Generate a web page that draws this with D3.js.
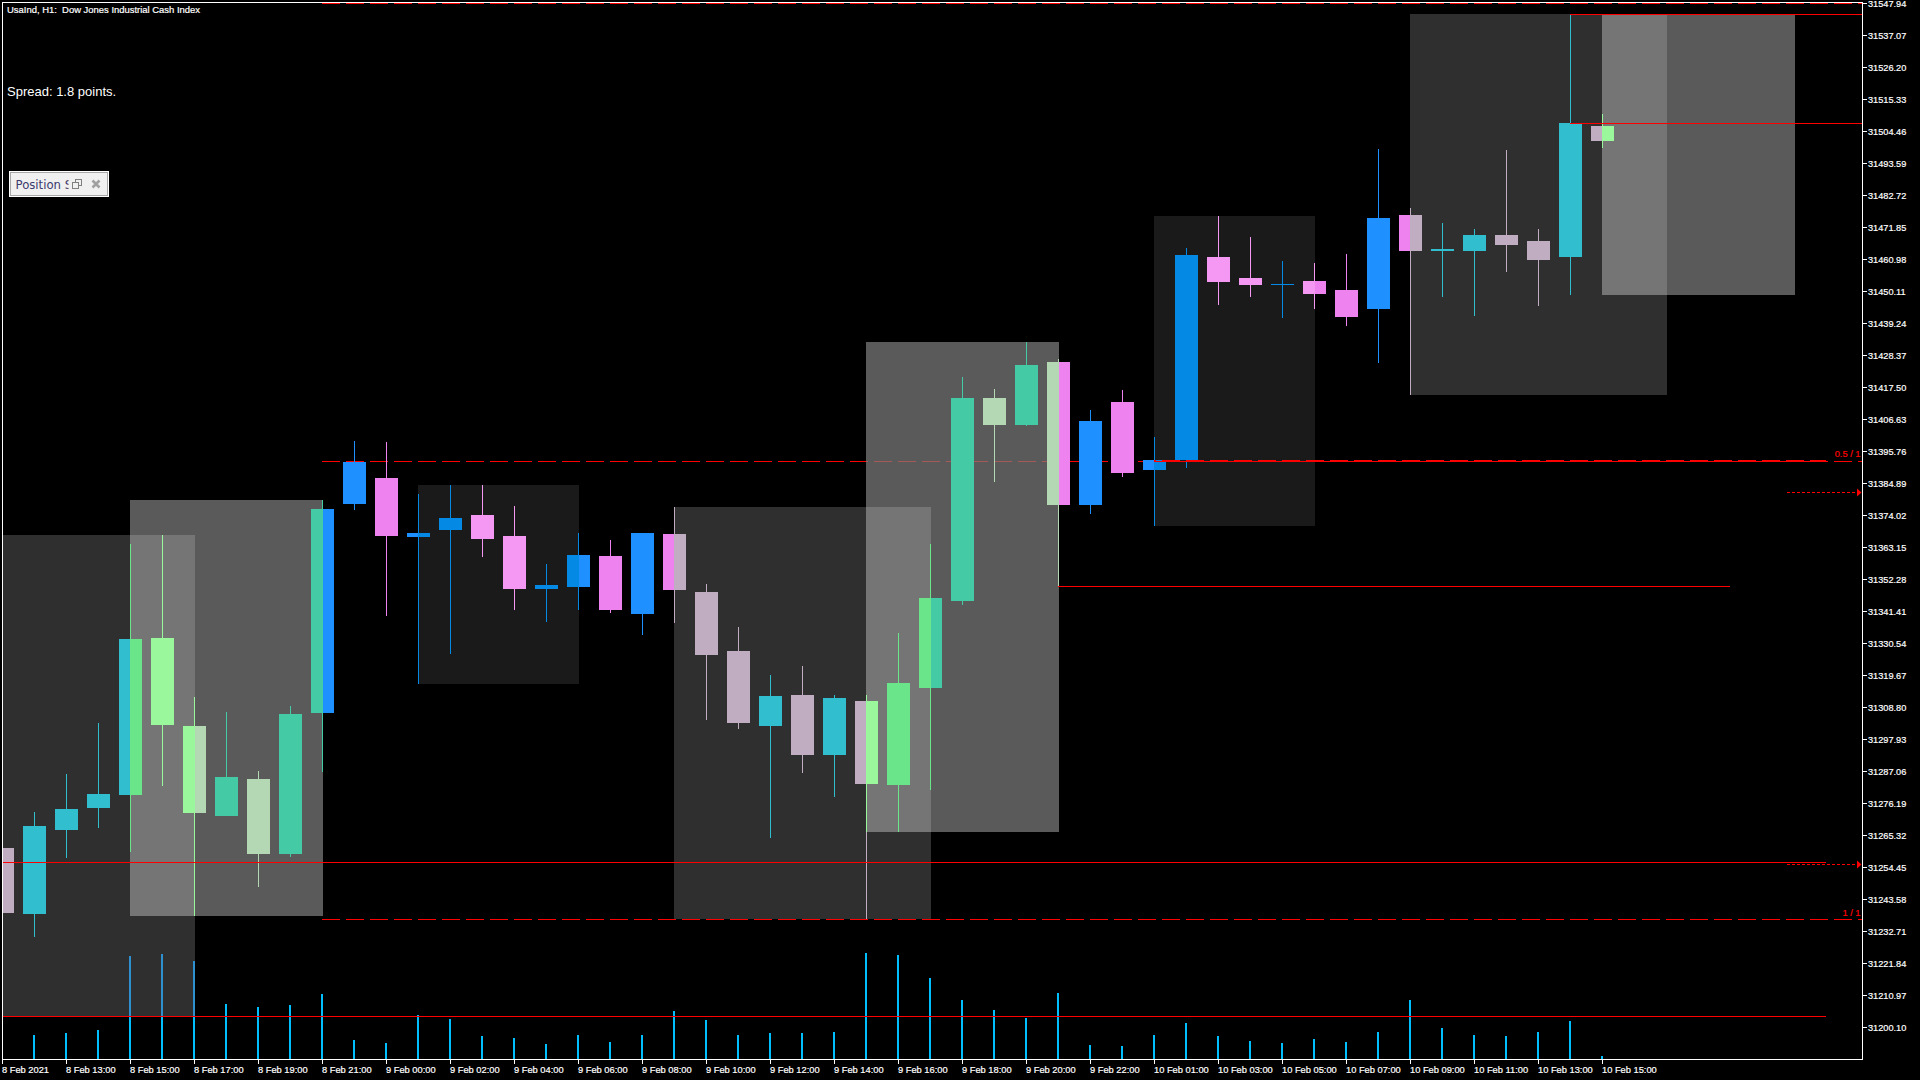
<!DOCTYPE html>
<html><head><meta charset="utf-8">
<style>html,body{margin:0;padding:0;background:#000;overflow:hidden}svg{display:block}
text{font-family:"Liberation Sans",Arial,sans-serif}</style>
<script src="https://cdn.jsdelivr.net/npm/d3@7/dist/d3.min.js"></script>
</head><body><script>
// ---------- data ----------
const opens  = [31260.90,31238.48,31267.02,31274.49,31278.91,31332.24,31302.35,31271.77,31284.34,31258.87,31306.76,31377.75,31386.58,31366.54,31368.92,31374.01,31366.88,31348.88,31349.56,31360.09,31340.39,31367.56,31347.87,31327.83,31302.35,31312.88,31292.50,31310.84,31282.31,31315.26,31344.81,31413.76,31404.59,31425.99,31377.41,31412.40,31389.30,31392.70,31461.66,31454.52,31452.15,31453.50,31450.45,31443.99,31475.92,31463.70,31463.70,31469.13,31467.09,31461.66,31506.16];
const highs  = [31263.62,31273.13,31286.04,31303.37,31364.16,31367.22,31312.20,31307.10,31287.06,31309.14,31379.11,31399.15,31398.81,31381.15,31384.21,31384.21,31377.07,31357.37,31367.90,31365.52,31367.90,31376.73,31350.59,31335.98,31319.67,31322.73,31312.88,31312.88,31333.94,31364.16,31420.89,31416.82,31432.79,31427.01,31409.68,31416.48,31400.51,31464.71,31475.58,31468.45,31460.30,31459.62,31462.68,31498.34,31478.30,31473.21,31471.17,31498.01,31471.17,31544.20,31510.23];
const lows   = [31236.45,31230.67,31257.51,31267.70,31259.55,31281.97,31237.80,31271.77,31247.66,31257.85,31286.72,31375.71,31339.71,31316.62,31326.81,31359.75,31341.75,31337.68,31341.75,31340.73,31333.26,31337.34,31304.39,31301.33,31264.30,31286.38,31278.23,31236.79,31266.34,31280.61,31343.45,31385.22,31404.25,31349.90,31374.35,31386.92,31370.28,31389.98,31445.35,31448.07,31440.94,31443.99,31438.22,31425.65,31414.78,31448.07,31441.61,31456.56,31445.01,31448.75,31498.68];
const closes = [31238.82,31268.38,31274.15,31279.25,31331.90,31302.69,31272.79,31285.02,31258.87,31306.42,31376.05,31392.02,31366.88,31367.90,31373.00,31365.86,31348.88,31350.24,31360.43,31341.75,31367.90,31348.54,31326.47,31303.37,31312.54,31292.50,31311.86,31282.65,31316.96,31345.83,31413.76,31404.59,31424.97,31377.41,31405.95,31388.28,31392.70,31462.34,31453.16,31452.15,31452.49,31449.09,31441.27,31474.91,31463.70,31464.37,31469.13,31465.73,31460.64,31507.18,31501.06];
const volumes = [0,240,260,290,1030,1050,980,550,520,540,650,190,160,440,400,230,210,150,240,170,240,480,390,240,260,260,270,1060,1040,810,590,490,410,660,140,130,240,360,230,180,160,200,170,270,590,310,240,230,270,380,30];
const boxStart = [-2,4,13,21,27,36,44,50];
const boxEnd   = [6,10,18,29,33,41,52,56];
const boxHigh  = [31367.22,31379.11,31384.21,31376.73,31432.79,31475.58,31544.20,31544.20];
const boxLow   = [31203.83,31237.80,31316.62,31236.79,31266.34,31370.28,31414.78,31448.75];
const boxGrey  = [0x2f,0x5a,0x1a,0x2f,0x5a,0x1a,0x2f,0x5a];
const dashLevels = [31547.94,31392.36,31236.79];
const solidLevels = [31256.15,31203.83,31349.90,31544.20,31507.18,31392.36];
const solidFrom   = [-2,-2,33,49,49,36];
const solidTo     = [57,57,54,60,60,57];
const arrowLevels = [31381.83,31255.47];
const yTickValues = [31547.94,31537.07,31526.20,31515.33,31504.46,31493.59,31482.72,31471.85,31460.98,31450.11,31439.24,31428.37,31417.50,31406.63,31395.76,31384.89,31374.02,31363.15,31352.28,31341.41,31330.54,31319.67,31308.80,31297.93,31287.06,31276.19,31265.32,31254.45,31243.58,31232.71,31221.84,31210.97,31200.10];
const xTickIndex = [0,2,4,6,8,10,12,14,16,18,20,22,24,26,28,30,32,34,36,38,40,42,44,46,48,50];
const xTickLabels = ["8 Feb 2021","8 Feb 13:00","8 Feb 15:00","8 Feb 17:00","8 Feb 19:00","8 Feb 21:00","9 Feb 00:00","9 Feb 02:00","9 Feb 04:00","9 Feb 06:00","9 Feb 08:00","9 Feb 10:00","9 Feb 12:00","9 Feb 14:00","9 Feb 16:00","9 Feb 18:00","9 Feb 20:00","9 Feb 22:00","10 Feb 01:00","10 Feb 03:00","10 Feb 05:00","10 Feb 07:00","10 Feb 09:00","10 Feb 11:00","10 Feb 13:00","10 Feb 15:00"];

// ---------- scales ----------
const W=1920,H=1080,L=3,R=1862,B=1059;
const x=d3.scaleLinear().domain([0,50]).range([2,1602]);
const y=d3.scaleLinear().domain([31547.94,31200.10]).range([3,1027]);
const yv=d3.scaleLinear().domain([0,1000]).range([1059,959]);
const ry=v=>Math.round(y(v));

const svg=d3.select("body").append("svg").attr("width",W).attr("height",H).attr("shape-rendering","crispEdges");
svg.append("rect").attr("width",W).attr("height",H).attr("fill","#000");

// XOR painter: the boxes of the terminal invert what lies under them bit by bit
const boxes=boxStart.map((s,i)=>({x0:Math.max(x(s),L),x1:x(boxEnd[i])+1,y0:ry(boxHigh[i]),y1:ry(boxLow[i]),g:boxGrey[i]}));
const xBreaks=[...new Set(boxes.flatMap(b=>[b.x0,b.x1]))];
const yBreaks=[...new Set(boxes.flatMap(b=>[b.y0,b.y1]))];
const hex=c=>"#"+c.toString(16).padStart(6,"0");
function paint(g,x0,y0,x1,y1,c){
  x0=Math.max(x0,L);x1=Math.min(x1,R);
  if(x1<=x0||y1<=y0)return;
  const xs=[x0,...xBreaks.filter(v=>v>x0&&v<x1).sort((a,b)=>a-b),x1];
  const ys=[y0,...yBreaks.filter(v=>v>y0&&v<y1).sort((a,b)=>a-b),y1];
  for(let i=0;i<xs.length-1;i++)for(let j=0;j<ys.length-1;j++){
    const cx=(xs[i]+xs[i+1])/2,cy=(ys[j]+ys[j+1])/2;let v=c;
    boxes.forEach(b=>{if(cx>=b.x0&&cx<b.x1&&cy>=b.y0&&cy<b.y1)v^=b.g*0x010101;});
    g.append("rect").attr("x",xs[i]).attr("y",ys[j]).attr("width",xs[i+1]-xs[i]).attr("height",ys[j+1]-ys[j]).attr("fill",hex(v));
  }
}
const RED=0xff0000,UP=0x1e90ff,DOWN=0xee82ee,VOL=0x00bfff;

const gBox=svg.append("g");
boxes.forEach(b=>paint(gBox,b.x0,b.y0,b.x1,b.y1,0));

const gDash=svg.append("g");
dashLevels.forEach(v=>{for(let px=x(10);px<R;px+=24)paint(gDash,px,ry(v),px+18,ry(v)+1,RED);});

const gVol=svg.append("g");
volumes.forEach((v,i)=>paint(gVol,x(i)-1,Math.round(yv(v)),x(i)+1,B,VOL));

const gCandle=svg.append("g");
opens.forEach((o,i)=>{
  const c=closes[i]>=o?UP:DOWN,px=x(i);
  paint(gCandle,px,ry(highs[i]),px+1,ry(lows[i]),c);
  paint(gCandle,px-11,ry(Math.max(o,closes[i])),px+12,ry(Math.min(o,closes[i])),c);
});

// solid lines lie over everything
const gLine=svg.append("g").attr("fill","#ff0000");
solidLevels.forEach((v,i)=>{
  const x0=Math.max(x(solidFrom[i]),L),x1=Math.min(x(solidTo[i]),R);
  gLine.append("rect").attr("x",x0).attr("y",ry(v)).attr("width",x1-x0).attr("height",1);
});
// doubled row of the executed level
{const v=solidLevels[5],x0=x(solidFrom[5]),x1=x(solidTo[5]);
 for(let px=x(10);px<x1;px+=24){const a=Math.max(px,x0),b=Math.min(px+18,x1);
  if(b>a)gLine.append("rect").attr("x",a).attr("y",ry(v)-1).attr("width",b-a).attr("height",1);}}

// arrows
arrowLevels.forEach(v=>{
  const r=ry(v);
  for(let px=1787;px<1857;px+=5)gLine.append("rect").attr("x",px).attr("y",r).attr("width",3).attr("height",1);
  svg.append("path").attr("d",d3.line()([[1857,r-3.5],[1861.5,r+.5],[1857,r+4.5]])).attr("fill","#ff0000").attr("shape-rendering","auto");
});

// red labels
const red=svg.append("g").attr("fill","#ff0000").attr("stroke","#ff0000").attr("stroke-width",.2).attr("font-size",9.3).attr("text-anchor","end").attr("shape-rendering","auto");
red.append("text").attr("x",1860.5).attr("y",ry(dashLevels[1])-4).text("0.5 / 1");
red.append("text").attr("x",1860.5).attr("y",ry(dashLevels[2])-3).text("1 / 1");

// frame
const frame=svg.append("g").attr("fill","#fff");
frame.append("rect").attr("x",2).attr("y",2).attr("width",R-1).attr("height",1);
frame.append("rect").attr("x",2).attr("y",2).attr("width",1).attr("height",B-1);
frame.append("rect").attr("x",R).attr("y",2).attr("width",1).attr("height",B-1);
frame.append("rect").attr("x",2).attr("y",B).attr("width",R-1).attr("height",1);

// axes
const axY=svg.append("g").attr("transform",`translate(${R+1},0)`)
  .call(d3.axisRight(y).tickValues(yTickValues).tickFormat(d3.format(".2f")).tickSize(4).tickPadding(1));
axY.select(".domain").remove();
axY.selectAll("line").attr("stroke","#fff");
axY.selectAll("text").attr("fill","#fff").attr("stroke","#fff").attr("stroke-width",.2).attr("font-size",9.2).attr("dy","3.5px");
const axX=svg.append("g").attr("transform",`translate(0,${B+1})`)
  .call(d3.axisBottom(x).tickValues(xTickIndex).tickFormat((d,i)=>xTickLabels[i]).tickSize(4).tickPadding(2));
axX.select(".domain").remove();
axX.selectAll("line").attr("stroke","#fff");
axX.selectAll("text").attr("fill","#fff").attr("stroke","#fff").attr("stroke-width",.2).attr("font-size",9.3).attr("text-anchor","start").attr("x",-.5);

// texts
svg.append("text").attr("x",7).attr("y",12.5).attr("fill","#fff").attr("stroke","#fff").attr("stroke-width",.2).attr("font-size",9.45).style("white-space","pre").text("UsaInd, H1:  Dow Jones Industrial Cash Index");
svg.append("text").attr("x",7).attr("y",95.5).attr("fill","#fff").attr("font-size",13).text("Spread: 1.8 points.");

// floating panel
const panel=svg.append("g");
panel.append("rect").attr("x",9).attr("y",171).attr("width",100).attr("height",26).attr("fill","#fff");
panel.append("rect").attr("x",10).attr("y",172).attr("width",98).attr("height",24).attr("fill","#a8a8a8");
panel.append("rect").attr("x",11).attr("y",173).attr("width",96).attr("height",22).attr("fill","#f0f0f0");
svg.append("clipPath").attr("id","pc").append("rect").attr("x",12).attr("y",173).attr("width",56.5).attr("height",22);
panel.append("text").attr("x",15.5).attr("y",189).attr("clip-path","url(#pc)").attr("fill","#3c3a6e").attr("font-size",11.7).style("font-family",'"DejaVu Sans"').text("Position Size");
const ic=panel.append("g").attr("fill","none").attr("stroke","#808080");
ic.append("rect").attr("x",75.5).attr("y",179.5).attr("width",6).attr("height",5.5);
ic.append("rect").attr("x",72.5).attr("y",182.5).attr("width",6).attr("height",6).attr("fill","#f0f0f0");
panel.append("path").attr("d","M92.5 180.5L99.5 187.5M99.5 180.5L92.5 187.5").attr("stroke","#a0a0a0").attr("stroke-width",2.6).attr("fill","none").attr("shape-rendering","auto");
</script></body></html>
